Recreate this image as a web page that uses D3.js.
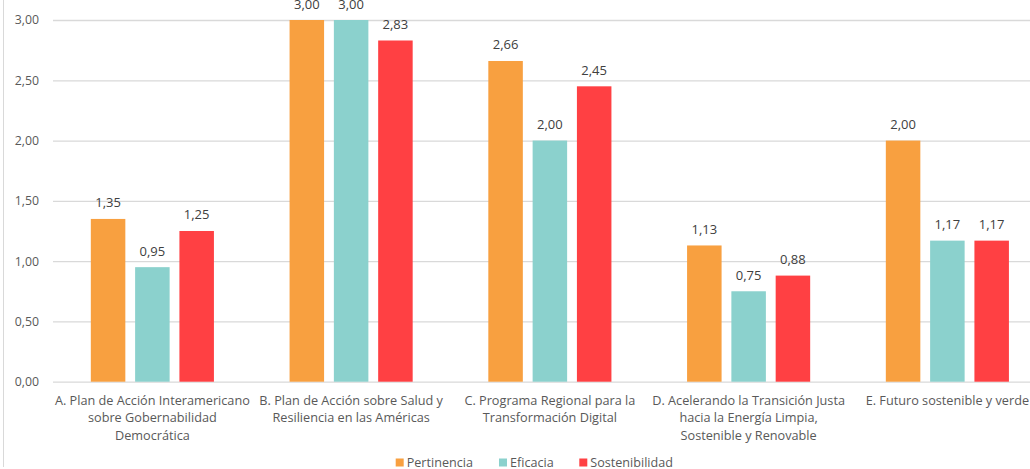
<!DOCTYPE html>
<html>
<head>
<meta charset="utf-8">
<script src="https://cdn.jsdelivr.net/npm/d3@7"></script>
<style>
html,body{margin:0;padding:0;background:#fff;overflow:hidden;}
svg{display:block;}
text{font-family:"Open Sans","Noto Sans",sans-serif;}
</style>
</head>
<body>
<svg id="chart" width="1030" height="469"></svg>
<script>
const categories = [
  ["A. Plan de Acción Interamericano", "sobre Gobernabilidad", "Democrática"],
  ["B. Plan de Acción sobre Salud y", "Resiliencia en las Américas"],
  ["C. Programa Regional para la", "Transformación Digital"],
  ["D. Acelerando la Transición Justa", "hacia la Energía Limpia,", "Sostenible y Renovable"],
  ["E. Futuro sostenible y verde"]
];
const seriesNames = ["Pertinencia", "Eficacia", "Sostenibilidad"];
const pertinencia = [1.35, 3.00, 2.66, 1.13, 2.00];
const eficacia = [0.95, 3.00, 2.00, 0.75, 1.17];
const sostenibilidad = [1.25, 2.83, 2.45, 0.88, 1.17];
const yTicks = [0, 0.5, 1, 1.5, 2, 2.5, 3];
const colors = ["#F8A040", "#8BD1CD", "#FF4043"];

const series = [pertinencia, eficacia, sostenibilidad];
const svg = d3.select("#chart");
const fmt = v => d3.format(".2f")(v).replace(".", ",");

const groupW = 123.1;
const x0 = d3.scaleBand().domain(d3.range(categories.length)).range([53, 53 + 198.75 * 5]).paddingInner(0).paddingOuter(0);
const x1 = d3.scaleBand().domain(d3.range(series.length)).range([0, groupW]).paddingInner(0.221).paddingOuter(0);
const y = d3.scaleLinear().domain([0, 3]).range([381.7, 20]);

// left border
svg.append("line").attr("x1", 3.5).attr("x2", 3.5).attr("y1", 0).attr("y2", 467)
  .attr("stroke", "#d9d9d9").attr("stroke-width", 1);

// gridlines + y axis labels
const yAxis = d3.axisLeft(y).tickValues(yTicks).tickFormat(fmt).tickSize(-1100).tickPadding(14);
const gA = svg.append("g").attr("transform", "translate(53,0)").call(yAxis);
gA.select(".domain").remove();
gA.selectAll(".tick line").attr("stroke", "#d9d9d9").attr("stroke-width", 1.3);
gA.selectAll(".tick text").attr("fill", "#595959").attr("font-size", 12.3).attr("text-anchor", "end").attr("x", -14);

// bars
const groups = svg.append("g").selectAll("g").data(categories).join("g")
  .attr("transform", (d, i) => `translate(${x0(i) + (x0.bandwidth() - groupW) / 2},0)`);
series.forEach((s, si) => {
  groups.append("rect")
    .attr("x", x1(si))
    .attr("width", x1.bandwidth())
    .attr("y", (d, i) => y(s[i]))
    .attr("height", (d, i) => y(0) - y(s[i]))
    .attr("fill", colors[si]);
  groups.append("text")
    .attr("x", x1(si) + x1.bandwidth() / 2)
    .attr("y", (d, i) => y(s[i]) - 11.5)
    .attr("text-anchor", "middle")
    .attr("font-size", 13)
    .attr("fill", "#404040")
    .text((d, i) => fmt(s[i]));
});

// category labels
const labels = svg.append("g").selectAll("text").data(categories).join("text")
  .attr("x", (d, i) => x0(i) + x0.bandwidth() / 2)
  .attr("y", 404.5)
  .attr("text-anchor", "middle")
  .attr("font-size", 12.7)
  .attr("fill", "#595959");
labels.selectAll("tspan").data(d => d).join("tspan")
  .attr("x", function () { return d3.select(this.parentNode).attr("x"); })
  .attr("dy", (d, i) => i === 0 ? 0 : 17.8)
  .text(d => d);

// legend
const legendX = [395.7, 499, 579.3];
const lg = svg.append("g").selectAll("g").data(seriesNames).join("g")
  .attr("transform", (d, i) => `translate(${legendX[i]},458.5)`);
lg.append("rect").attr("width", 8).attr("height", 8).attr("fill", (d, i) => colors[i]);
lg.append("text").attr("x", 11).attr("y", 8.5).attr("font-size", 12.6).attr("fill", "#595959").text(d => d);
</script>
</body>
</html>
